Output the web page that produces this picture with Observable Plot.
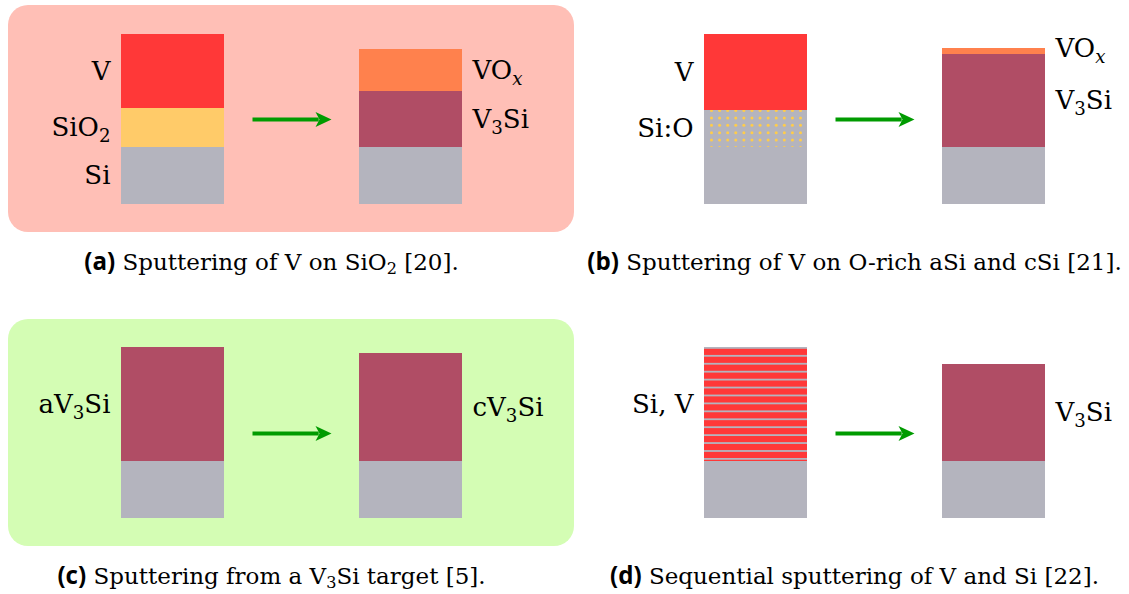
<!DOCTYPE html>
<html>
<head>
<meta charset="utf-8">
<script src="https://cdn.jsdelivr.net/npm/d3@7"></script>
<script src="https://cdn.jsdelivr.net/npm/@observablehq/plot@0.6"></script>
<style>
  html, body { margin: 0; padding: 0; background: #fff; overflow: hidden; }
</style>
</head>
<body>
<div id="chart"></div>
<script>
// ---------------- DATA ----------------
const panels = ["a", "b", "c", "d"];
const panelColumn = ["left", "right", "left", "right"];
const panelRow = ["top", "top", "bottom", "bottom"];
const captions = [
  "(a) Sputtering of V on SiO_2 [20].",
  "(b) Sputtering of V on O-rich aSi and cSi [21].",
  "(c) Sputtering from a V_3Si target [5].",
  "(d) Sequential sputtering of V and Si [22]."
];
const panelBackground = ["#ffbfb6", null, "#d4fdb4", null];

// layer stacks, bottom to top: material, thickness, label
const stackA0 = [{m: "Si", t: 57, label: "Si"}, {m: "SiO2", t: 39, label: "SiO_2"}, {m: "V", t: 74, label: "V"}];
const stackA1 = [{m: "Si", t: 57}, {m: "V3Si", t: 56, label: "V_3Si"}, {m: "VOx", t: 42, label: "VO_x"}];
const stackB0 = [{m: "Si", t: 57}, {m: "Si:O", t: 37, label: "Si:O"}, {m: "V", t: 76, label: "V"}];
const stackB1 = [{m: "Si", t: 57}, {m: "V3Si", t: 93, label: "V_3Si"}, {m: "VOx", t: 6, label: "VO_x"}];
const stackC0 = [{m: "Si", t: 57}, {m: "V3Si", t: 114, label: "aV_3Si"}];
const stackC1 = [{m: "Si", t: 57}, {m: "V3Si", t: 108, label: "cV_3Si"}];
const stackD0 = [{m: "Si", t: 57}, {m: "Si,V", t: 114, label: "Si, V"}];
const stackD1 = [{m: "Si", t: 57}, {m: "V3Si", t: 97, label: "V_3Si"}];

const multilayerPairs = 15;      // Si sub-layers in the sequential V/Si stack
const oxygenDotColumns = 12;     // dot texture of the O-rich Si layer
const oxygenDotRows = 6;

// ---------------- STYLE / LAYOUT ----------------
const serif = "DejaVu Serif";
const materialColor = {
  "Si": "#b4b4be", "SiO2": "#ffcb69", "V": "#ff3838", "VOx": "#ff814d",
  "V3Si": "#b04d65", "Si:O": "#b4b4be", "Si,V": "#ff3838"
};
const dotColor = "#ffcc4a";
const arrowColor = "#009b00";
const layout = {
  before: [121, 224], after: [359, 462], labelGap: 11,
  bg: {x1: 8, x2: 574, y1: -28, y2: 199},
  arrow: {x1: 252, x2: 331, y: 85},
  caption: {x: 271, y: -58}
};
const headSize = 8;

const stacks = [
  {panel: 0, side: "before", layers: stackA0}, {panel: 0, side: "after", layers: stackA1},
  {panel: 1, side: "before", layers: stackB0}, {panel: 1, side: "after", layers: stackB1},
  {panel: 2, side: "before", layers: stackC0}, {panel: 2, side: "after", layers: stackC1},
  {panel: 3, side: "before", layers: stackD0}, {panel: 3, side: "after", layers: stackD1}
];

const layers = stacks.flatMap(s => {
  let base = 0;
  const [x1, x2] = layout[s.side];
  return s.layers.map(l => {
    const r = {...l, side: s.side, fx: panelColumn[s.panel], fy: panelRow[s.panel], x1, x2, y1: base, y2: base + l.t};
    base += l.t;
    return r;
  });
});
// label sits at the layer's middle; very thin layers get it at their top edge
const labelY = d => d.t < 20 ? d.y2 : (d.y1 + d.y2) / 2;

// dot texture for Si:O
const oxDots = layers.filter(d => d.m === "Si:O").flatMap(l =>
  d3.cross(d3.range(oxygenDotColumns), d3.range(oxygenDotRows)).map(([i, j]) => ({
    fx: l.fx, fy: l.fy,
    x: l.x1 + 7 + i * (l.x2 - l.x1 - 14) / (oxygenDotColumns - 1),
    y: l.y1 + j * l.t / (oxygenDotRows - 1)
  })));

// stripe texture for the V/Si multilayer
const stripes = layers.filter(d => d.m === "Si,V").flatMap(l => {
  const period = (l.t - 3) / (multilayerPairs - 1);
  return d3.range(multilayerPairs).map(k => ({
    fx: l.fx, fy: l.fy, x1: l.x1, x2: l.x2,
    y2: l.y2 - k * period, y1: l.y2 - k * period - 1.8
  }));
});

const bgs = panels.map((p, i) => ({fx: panelColumn[i], fy: panelRow[i], fill: panelBackground[i], ...layout.bg}))
  .filter(d => d.fill);
const arrows = panels.map((p, i) => ({fx: panelColumn[i], fy: panelRow[i], ...layout.arrow}));
const captionData = panels.map((p, i) => ({fx: panelColumn[i], fy: panelRow[i], text: captions[i], ...layout.caption}));

const labelsBefore = layers.filter(d => d.label && d.side === "before");
const labelsAfter = layers.filter(d => d.label && d.side === "after");

// stealth arrow head pointing right
const stealth = {
  draw(context, size) {
    const r = Math.sqrt(size / Math.PI);
    context.moveTo(r, 0);
    context.lineTo(-r, -0.94 * r);
    context.lineTo(-0.5 * r, 0);
    context.lineTo(-r, 0.94 * r);
    context.closePath();
  }
};

const chart = Plot.plot({
  width: 1129, height: 594, margin: 0,
  fx: {domain: ["left", "right"], axis: null, paddingInner: 0.0635, paddingOuter: 0},
  fy: {domain: ["top", "bottom"], axis: null, paddingInner: 0.1083, paddingOuter: 0},
  x: {domain: [0, 546], axis: null},
  y: {domain: [-76, 204], axis: null},
  color: {type: "identity"},
  style: {background: "white", color: "black"},
  marks: [
    Plot.rect(bgs, {fx: "fx", fy: "fy", x1: "x1", x2: "x2", y1: "y1", y2: "y2", fill: "fill", rx: 20, ry: 20}),
    Plot.rect(layers.filter(d => d.m === "Si:O"), {fx: "fx", fy: "fy", x1: "x1", x2: "x2", y1: "y1", y2: "y2", fill: d => materialColor[d.m]}),
    Plot.dot(oxDots, {fx: "fx", fy: "fy", x: "x", y: "y", r: 1.5, fill: dotColor, stroke: null}),
    Plot.rect(layers.filter(d => d.m !== "Si:O"), {fx: "fx", fy: "fy", x1: "x1", x2: "x2", y1: "y1", y2: "y2", fill: d => materialColor[d.m]}),
    Plot.rect(stripes, {fx: "fx", fy: "fy", x1: "x1", x2: "x2", y1: "y1", y2: "y2", fill: materialColor["Si"]}),
    Plot.link(arrows, {fx: "fx", fy: "fy", x1: "x1", x2: d => d.x2 - 1.6 * headSize, y1: "y", y2: "y", stroke: arrowColor, strokeWidth: 4}),
    Plot.dot(arrows, {fx: "fx", fy: "fy", x: d => d.x2 - headSize, y: "y", r: headSize, symbol: stealth, fill: arrowColor, stroke: null}),
    Plot.text(labelsBefore, {fx: "fx", fy: "fy", x: d => d.x1 - layout.labelGap, y: labelY, text: "label", textAnchor: "end", fontSize: 26, fontFamily: serif, ariaDescription: "layer-label"}),
    Plot.text(labelsAfter, {fx: "fx", fy: "fy", x: d => d.x2 + layout.labelGap - 1, y: labelY, text: "label", textAnchor: "start", fontSize: 26, fontFamily: serif, ariaDescription: "layer-label"}),
    Plot.text(captionData, {fx: "fx", fy: "fy", x: "x", y: "y", text: "text", fontSize: 23, fontFamily: serif, ariaDescription: "caption"})
  ]
});

// rich text: bold sans tag, subscripts
const NS = "http://www.w3.org/2000/svg";
function richify(svg, label, fontSize, spacing, shift) {
  svg.querySelectorAll(`g[aria-description="${label}"] text`).forEach(text => {
    const s = text.textContent;
    text.textContent = "";
    text.setAttribute("letter-spacing", spacing);
    text.setAttribute("font-family", serif);
    let body = s;
    const m = s.match(/^(\([a-d]\))\s(.*)$/);
    if (m) {
      const tag = document.createElementNS(NS, "tspan");
      tag.textContent = m[1];
      tag.setAttribute("font-family", "Open Sans");
      tag.setAttribute("font-weight", "bold");
      tag.setAttribute("font-size", fontSize * 1.05);
      tag.setAttribute("letter-spacing", 0);
      text.appendChild(tag);
      body = " " + m[2];
    }
    const parts = body.split(/_(.)/);
    let shifted = false;
    parts.forEach((p, i) => {
      if (!p) return;
      const t = document.createElementNS(NS, "tspan");
      t.textContent = p;
      if (i % 2) {
        t.setAttribute("font-size", fontSize * 0.7);
        t.setAttribute("dy", fontSize * shift);
        if (p === "x") t.setAttribute("font-style", "italic");
        shifted = true;
      } else if (shifted) {
        t.setAttribute("dy", -fontSize * shift);
        shifted = false;
      }
      text.appendChild(t);
    });
  });
}
richify(chart, "layer-label", 26, 0, 0.22);
richify(chart, "caption", 23, 0, 0.18);

document.getElementById("chart").appendChild(chart);
</script>
</body>
</html>
